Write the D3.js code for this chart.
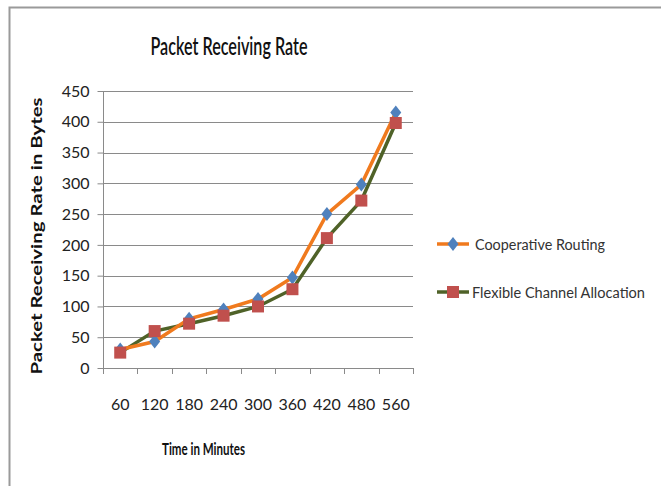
<!DOCTYPE html>
<html><head><meta charset="utf-8">
<script src="https://cdn.jsdelivr.net/npm/d3@7"></script>
<style>body{margin:0;background:#fff}svg{display:block;font-family:Lato,"Open Sans",sans-serif}</style>
</head><body><svg id="c" width="661" height="486"></svg>
<script>
const categories = ["60","120","180","240","300","360","420","480","560"];
const cooperative = [30,43,80,95,112,147,250,298,415];
const flexible = [25,60,72,85,100,128,211,272,398];
const yTicks = [0,50,100,150,200,250,300,350,400,450];
const seriesNames = ["Cooperative Routing","Flexible Channel Allocation"];

const svg = d3.select("#c");
const m = {l:103, r:413, t:91, b:368};
const x = d3.scaleBand().domain(categories).range([m.l, m.r]);
const y = d3.scaleLinear().domain([0,450]).range([m.b, m.t]);

// border
svg.append("path").attr("d","M9.5,486 V7.5 H661").attr("fill","none").attr("stroke","#9a9a9a").attr("stroke-width",2);

// gridlines
svg.append("g").selectAll("line").data(yTicks.slice(1)).join("line")
  .attr("x1",m.l).attr("x2",m.r).attr("y1",d=>Math.round(y(d))+0.5).attr("y2",d=>Math.round(y(d))+0.5)
  .attr("stroke","#8a8a8a").attr("stroke-width",1);

// y axis
const ya = svg.append("g").attr("transform",`translate(${m.l+0.5},0)`)
  .call(d3.axisLeft(y).tickValues(yTicks).tickSize(6).tickPadding(8));
ya.select(".domain").attr("stroke","#8a8a8a").attr("d",`M0,${m.t}V${m.b}`);
ya.selectAll(".tick line").attr("stroke","#8a8a8a");
ya.selectAll(".tick text").attr("font-size",16).attr("fill","#222").attr("font-family","Lato,sans-serif");

// x axis
const xa = svg.append("g").attr("transform",`translate(0,${m.b+0.5})`)
  .call(d3.axisBottom(x).tickSize(0).tickPadding(30));
xa.select(".domain").attr("stroke","#8a8a8a").attr("d",`M${m.l},0H${m.r}`);
xa.selectAll(".tick text").attr("font-size",16).attr("fill","#222").attr("font-family","Lato,sans-serif");
const bounds = categories.map(c=>x(c)).concat([m.r]);
svg.append("g").selectAll("line").data(bounds).join("line")
  .attr("x1",d=>Math.round(d)+0.5).attr("x2",d=>Math.round(d)+0.5).attr("y1",m.b).attr("y2",m.b+6)
  .attr("stroke","#8a8a8a");

const cx = d => x(d) + x.bandwidth()/2;
const line = d3.line().x((d,i)=>cx(categories[i])).y(d=>y(d));

svg.append("path").datum(flexible).attr("d",line).attr("fill","none").attr("stroke","#4f6228").attr("stroke-width",3.5);
svg.append("path").datum(cooperative).attr("d",line).attr("fill","none").attr("stroke","#f07a1e").attr("stroke-width",3.5);

const diamond = (g, px, py) => g.append("path")
  .attr("d",`M${px},${py-7}L${px+5.5},${py}L${px},${py+7}L${px-5.5},${py}Z`).attr("fill","#4f81bd");
const square = (g, px, py) => g.append("rect").attr("x",px-6).attr("y",py-6).attr("width",12).attr("height",12).attr("fill","#c0504d");

const mk = svg.append("g");
cooperative.forEach((v,i)=>diamond(mk, cx(categories[i]), y(v)));
flexible.forEach((v,i)=>square(mk, cx(categories[i]), y(v)));

// title
svg.append("text").attr("x",229).attr("y",55).attr("text-anchor","middle")
  .attr("font-size",24).attr("font-weight",600).attr("fill","#111").attr("textLength",157).attr("lengthAdjust","spacingAndGlyphs")
  .text("Packet Receiving Rate");

// axis titles
svg.append("text").attr("x",203.5).attr("y",455).attr("text-anchor","middle")
  .attr("font-size",17).attr("font-weight",700).attr("fill","#111").attr("textLength",83).attr("lengthAdjust","spacingAndGlyphs")
  .text("Time in Minutes");
svg.append("text").attr("transform","translate(42,236) rotate(-90)").attr("text-anchor","middle")
  .attr("font-size",15).attr("font-weight",700).attr("fill","#111").attr("textLength",277).attr("lengthAdjust","spacingAndGlyphs")
  .text("Packet Receiving Rate in Bytes");

// legend
const lg = svg.append("g");
const rows = [{name:seriesNames[0], color:"#f07a1e", y:244, m:"d", tx:475, tl:130},
              {name:seriesNames[1], color:"#4f6228", y:292, m:"s", tx:472, tl:173}];
rows.forEach(r=>{
  lg.append("line").attr("x1",437).attr("x2",469).attr("y1",r.y).attr("y2",r.y).attr("stroke",r.color).attr("stroke-width",3.5);
  if(r.m==="d") diamond(lg,453,r.y); else square(lg,453,r.y);
  lg.append("text").attr("x",r.tx).attr("y",r.y+5.5).attr("font-size",15.5).attr("fill","#333")
    .attr("textLength",r.tl).attr("lengthAdjust","spacingAndGlyphs").text(r.name);
});
</script></body></html>
